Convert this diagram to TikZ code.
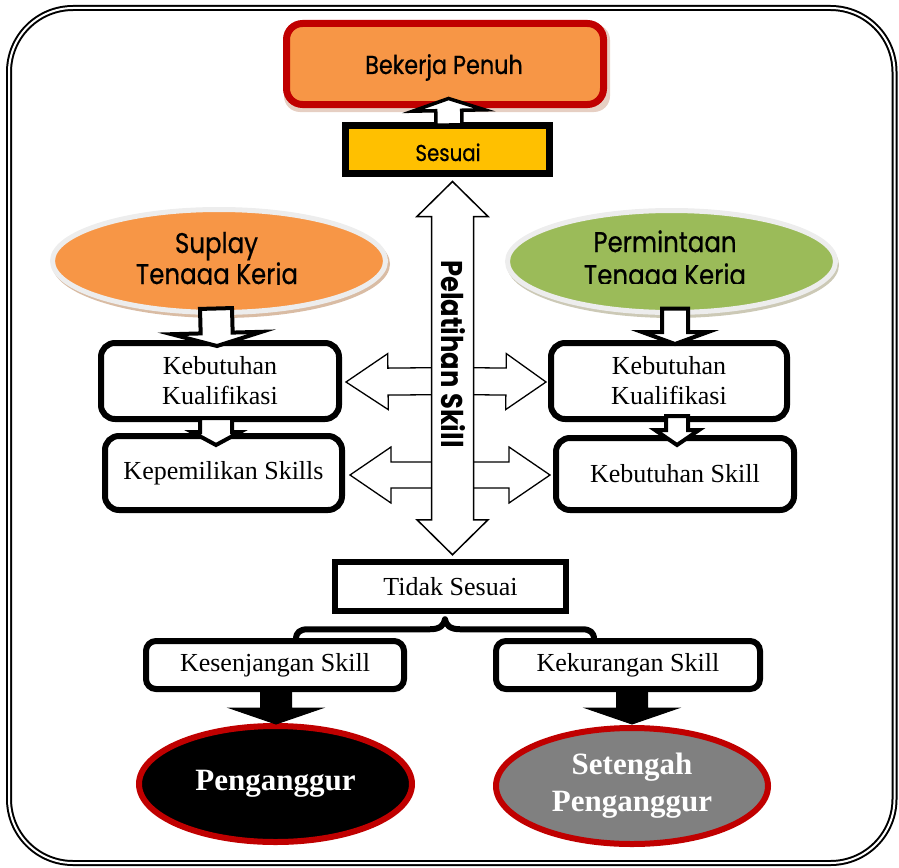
\documentclass[tikz,border=0pt]{standalone}
\usepackage{fontspec}
\setmainfont{Liberation Serif}
\newfontfamily\geo[FakeStretch=0.86, FakeBold=0.6]{Poppins}
\newfontfamily\geoplain[FakeStretch=0.86]{Poppins}
\usetikzlibrary{calc,shapes.geometric}

\definecolor{accorange}{HTML}{F79646}
\definecolor{accred}{HTML}{C00000}
\definecolor{accgold}{HTML}{FFC000}
\definecolor{accgreen}{HTML}{9BBB59}
\definecolor{accgray}{HTML}{808080}
\definecolor{ringgray}{HTML}{EDEDED}
\definecolor{tanshadow}{HTML}{D9BCA4}
\definecolor{greenshadow}{HTML}{CCC9B6}
\definecolor{boxshadow}{HTML}{E6CFC3}

% straight block arrow: [style]{from}{to}{shaft half}{head half}{head length}
\newcommand\blockarrow[6][]{%
  \coordinate (ba-h) at ($(#3)!#6!(#2)$);
  \draw[#1] ($(#2)!#4!90:(#3)$) -- ($(ba-h)!#4!90:(#3)$) -- ($(ba-h)!#5!90:(#3)$)
    -- (#3) -- ($(ba-h)!#5!-90:(#3)$) -- ($(ba-h)!#4!-90:(#3)$)
    -- ($(#2)!#4!-90:(#3)$) -- cycle;}

\begin{document}
\begin{tikzpicture}[x=1pt,y=-1pt,
  frame/.style={draw=black, line width=2pt, double=white, double distance=2pt, rounded corners=64pt},
  geotext/.style={font=\geo\fontsize{28.5}{32}\selectfont},
  roundbox/.style={draw=black, fill=white, line width=6pt, rounded corners=14pt, inner sep=0pt,
    align=center, font=\fontsize{26}{30}\selectfont},
  squarebox/.style={draw=black, fill=white, line width=6.5pt, inner sep=0pt,
    font=\fontsize{26}{30}\selectfont},
  lowbox/.style={roundbox, rounded corners=10pt},
  outcome/.style={ellipse, draw=accred, line width=6pt, inner sep=0pt, align=center,
    text=white, font=\bfseries\fontsize{31}{37}\selectfont},
  source/.style={ellipse, draw=ringgray, line width=5pt, inner sep=0pt},
  whitearrow/.style={draw=black, fill=white, line width=4pt, line join=miter, miter limit=20},
  sidearrow/.style={draw=black, fill=white, line width=1.3pt, line join=miter, miter limit=20},
  darkarrow/.style={draw=black, fill=black, line width=1pt, line join=miter, miter limit=20},
  brace/.style={draw=black, line width=6pt, line cap=round, line join=round}
]
\useasboundingbox (0,0) rectangle (899,867);

% outer double frame
\draw[frame] (9,8) rectangle (894.5,863);

% top goal and the match box
\fill[boxshadow, rounded corners=16pt] (284,24) rectangle (610,112);
\node[draw=accred, fill=accorange, line width=7pt, rounded corners=16pt, inner sep=0pt,
  minimum width=317pt, minimum height=81pt] (work) at (445,64) {};
\node[font=\geo\fontsize{26}{30}\selectfont, anchor=base] (workT) at (444,74) {Bekerja Penuh};
\node[draw=black, fill=accgold, line width=7pt, inner sep=0pt,
  minimum width=204pt, minimum height=48pt] (fit) at (447.5,149.5) {};
\node[font=\geo\fontsize{23}{26}\selectfont, anchor=base] (fitT) at (448,161) {Sesuai};
\blockarrow[whitearrow, line width=3.5pt]{$(fit.north)+(1.5,3)$}{$(work.south)+(3.5,-9.5)$}{13pt}{36pt}{12pt}

% supply and demand ellipses
\fill[tanshadow] (221,264) ellipse [x radius=169, y radius=54];
\node[source, fill=accorange, minimum width=333pt, minimum height=103pt] (sup) at (219,261) {};
\fill[greenshadow] (673,265) ellipse [x radius=166, y radius=53];
\node[source, fill=accgreen, minimum width=328pt, minimum height=102pt] (dem) at (671.5,261.5) {};

\node[geotext, anchor=base] (supA) at (216.5,253) {Suplay};
\begin{scope}
  \clip (100,258) rectangle (340,284);
  \node[geotext, anchor=base] (supB) at (217,284) {Tenaga Kerja};
\end{scope}
\node[geotext, anchor=base] (demA) at (665,252) {Permintaan};
\begin{scope}
  \clip (560,258) rectangle (780,283);
  \node[geotext, anchor=base] (demB) at (665,285) {Tenaga Kerja};
\end{scope}

% qualification and skill boxes
\node[roundbox, minimum width=238pt, minimum height=76pt] (needL) at (220,381) {Kebutuhan\\Kualifikasi};
\node[roundbox, minimum width=237pt, minimum height=74pt] (ownL) at (223.5,473) {Kepemilikan Skills};
\node[roundbox, minimum width=236pt, minimum height=76pt] (needR) at (669,381) {Kebutuhan\\Kualifikasi};
\node[roundbox, minimum width=238pt, minimum height=72pt] (ownR) at (675,474) {Kebutuhan Skill};

% flow from the ellipses down through the boxes
\blockarrow[whitearrow]{$(sup.south)+(-3,-6.5)$}{$(needL.north)+(-3,6)$}{16pt}{45pt}{13pt}
\blockarrow[whitearrow]{$(dem.south)+(3.5,-6.5)$}{$(needR.north)+(6,4)$}{13pt}{33pt}{12pt}
\blockarrow[whitearrow]{$(needL.south)+(-4,-4)$}{$(ownL.north)+(-7.5,12)$}{16pt}{24pt}{13pt}
\blockarrow[whitearrow]{$(needR.south)+(8,-6)$}{$(ownR.north)+(2,10)$}{11pt}{22pt}{15pt}

% training arrow and its branches
\coordinate (ptop) at ($(fit.south)+(5,4.5)$);
\node[squarebox, minimum width=231pt, minimum height=49pt] (notfit) at (450.5,586.5) {Tidak Sesuai};
\coordinate (pbot) at ($(notfit.north)+(2,-4)$);

\blockarrow[sidearrow]{ptop |- needL}{$(needL.east)+(4,1)$}{13.5pt}{28pt}{42pt}
\blockarrow[sidearrow]{ptop |- needR}{$(needR.west)+(-2,1)$}{13.5pt}{28pt}{40pt}
\blockarrow[sidearrow]{$(ptop |- ownL)+(0,2)$}{$(ownL.east)+(5,2)$}{13pt}{28pt}{41pt}
\blockarrow[sidearrow]{$(ptop |- ownR)+(0,1)$}{$(ownR.west)+(-3,1)$}{13pt}{28pt}{41pt}

\draw[sidearrow, line width=1.5pt] (ptop) -- ($(ptop)+(35.5,35)$) -- ($(ptop)+(21,35)$)
  -- ($(pbot)+(21,-35)$) -- ($(pbot)+(35.5,-35)$) -- (pbot) -- ($(pbot)+(-35.5,-35)$)
  -- ($(pbot)+(-21,-35)$) -- ($(ptop)+(-21,35)$) -- ($(ptop)+(-35.5,35)$) -- cycle;
\node[rotate=-90, font=\geoplain\bfseries\fontsize{30}{34}\selectfont] (train) at (453,354) {Pelatihan Skill};

% mismatch split
\node[lowbox, minimum width=258pt, minimum height=48pt] (gap) at (275,665) {Kesenjangan Skill};
\node[lowbox, minimum width=264pt, minimum height=48pt] (lack) at (628,665) {Kekurangan Skill};
\coordinate (cusp) at ($(notfit.south)+(-5.5,5)$);
\coordinate (bl) at ($(gap.north)+(21,0)$);
\coordinate (br) at ($(lack.north)+(-34,0)$);
\draw[brace] (bl) -- ($(cusp)+(-149,20)$)
  .. controls ($(cusp)+(-149,13)$) and ($(cusp)+(-145,10)$) .. ($(cusp)+(-137,10)$)
  -- ($(cusp)+(-15,10)$)
  .. controls ($(cusp)+(-5,10)$) and ($(cusp)+(-1,6)$) .. (cusp)
  .. controls ($(cusp)+(1,6)$) and ($(cusp)+(5,10)$) .. ($(cusp)+(15,10)$)
  -- ($(cusp)+(137,10)$)
  .. controls ($(cusp)+(145,10)$) and ($(cusp)+(149,13)$) .. ($(cusp)+(149,20)$)
  -- (br);

% outcomes
\node[outcome, fill=black, minimum width=273pt, minimum height=116pt] (jobless) at (275.5,784) {Penganggur};
\node[outcome, fill=accgray, minimum width=272pt, minimum height=116pt] (half) at (632,786) {Setengah\\Penganggur};
\blockarrow[darkarrow]{$(gap.south)+(1,-2)$}{$(jobless.north)+(0.5,1)$}{15.5pt}{46.5pt}{16pt}
\blockarrow[darkarrow]{$(lack.south)+(4,-2)$}{$(half.north)+(0,-1)$}{15.5pt}{46.5pt}{16pt}
\end{tikzpicture}
\end{document}
